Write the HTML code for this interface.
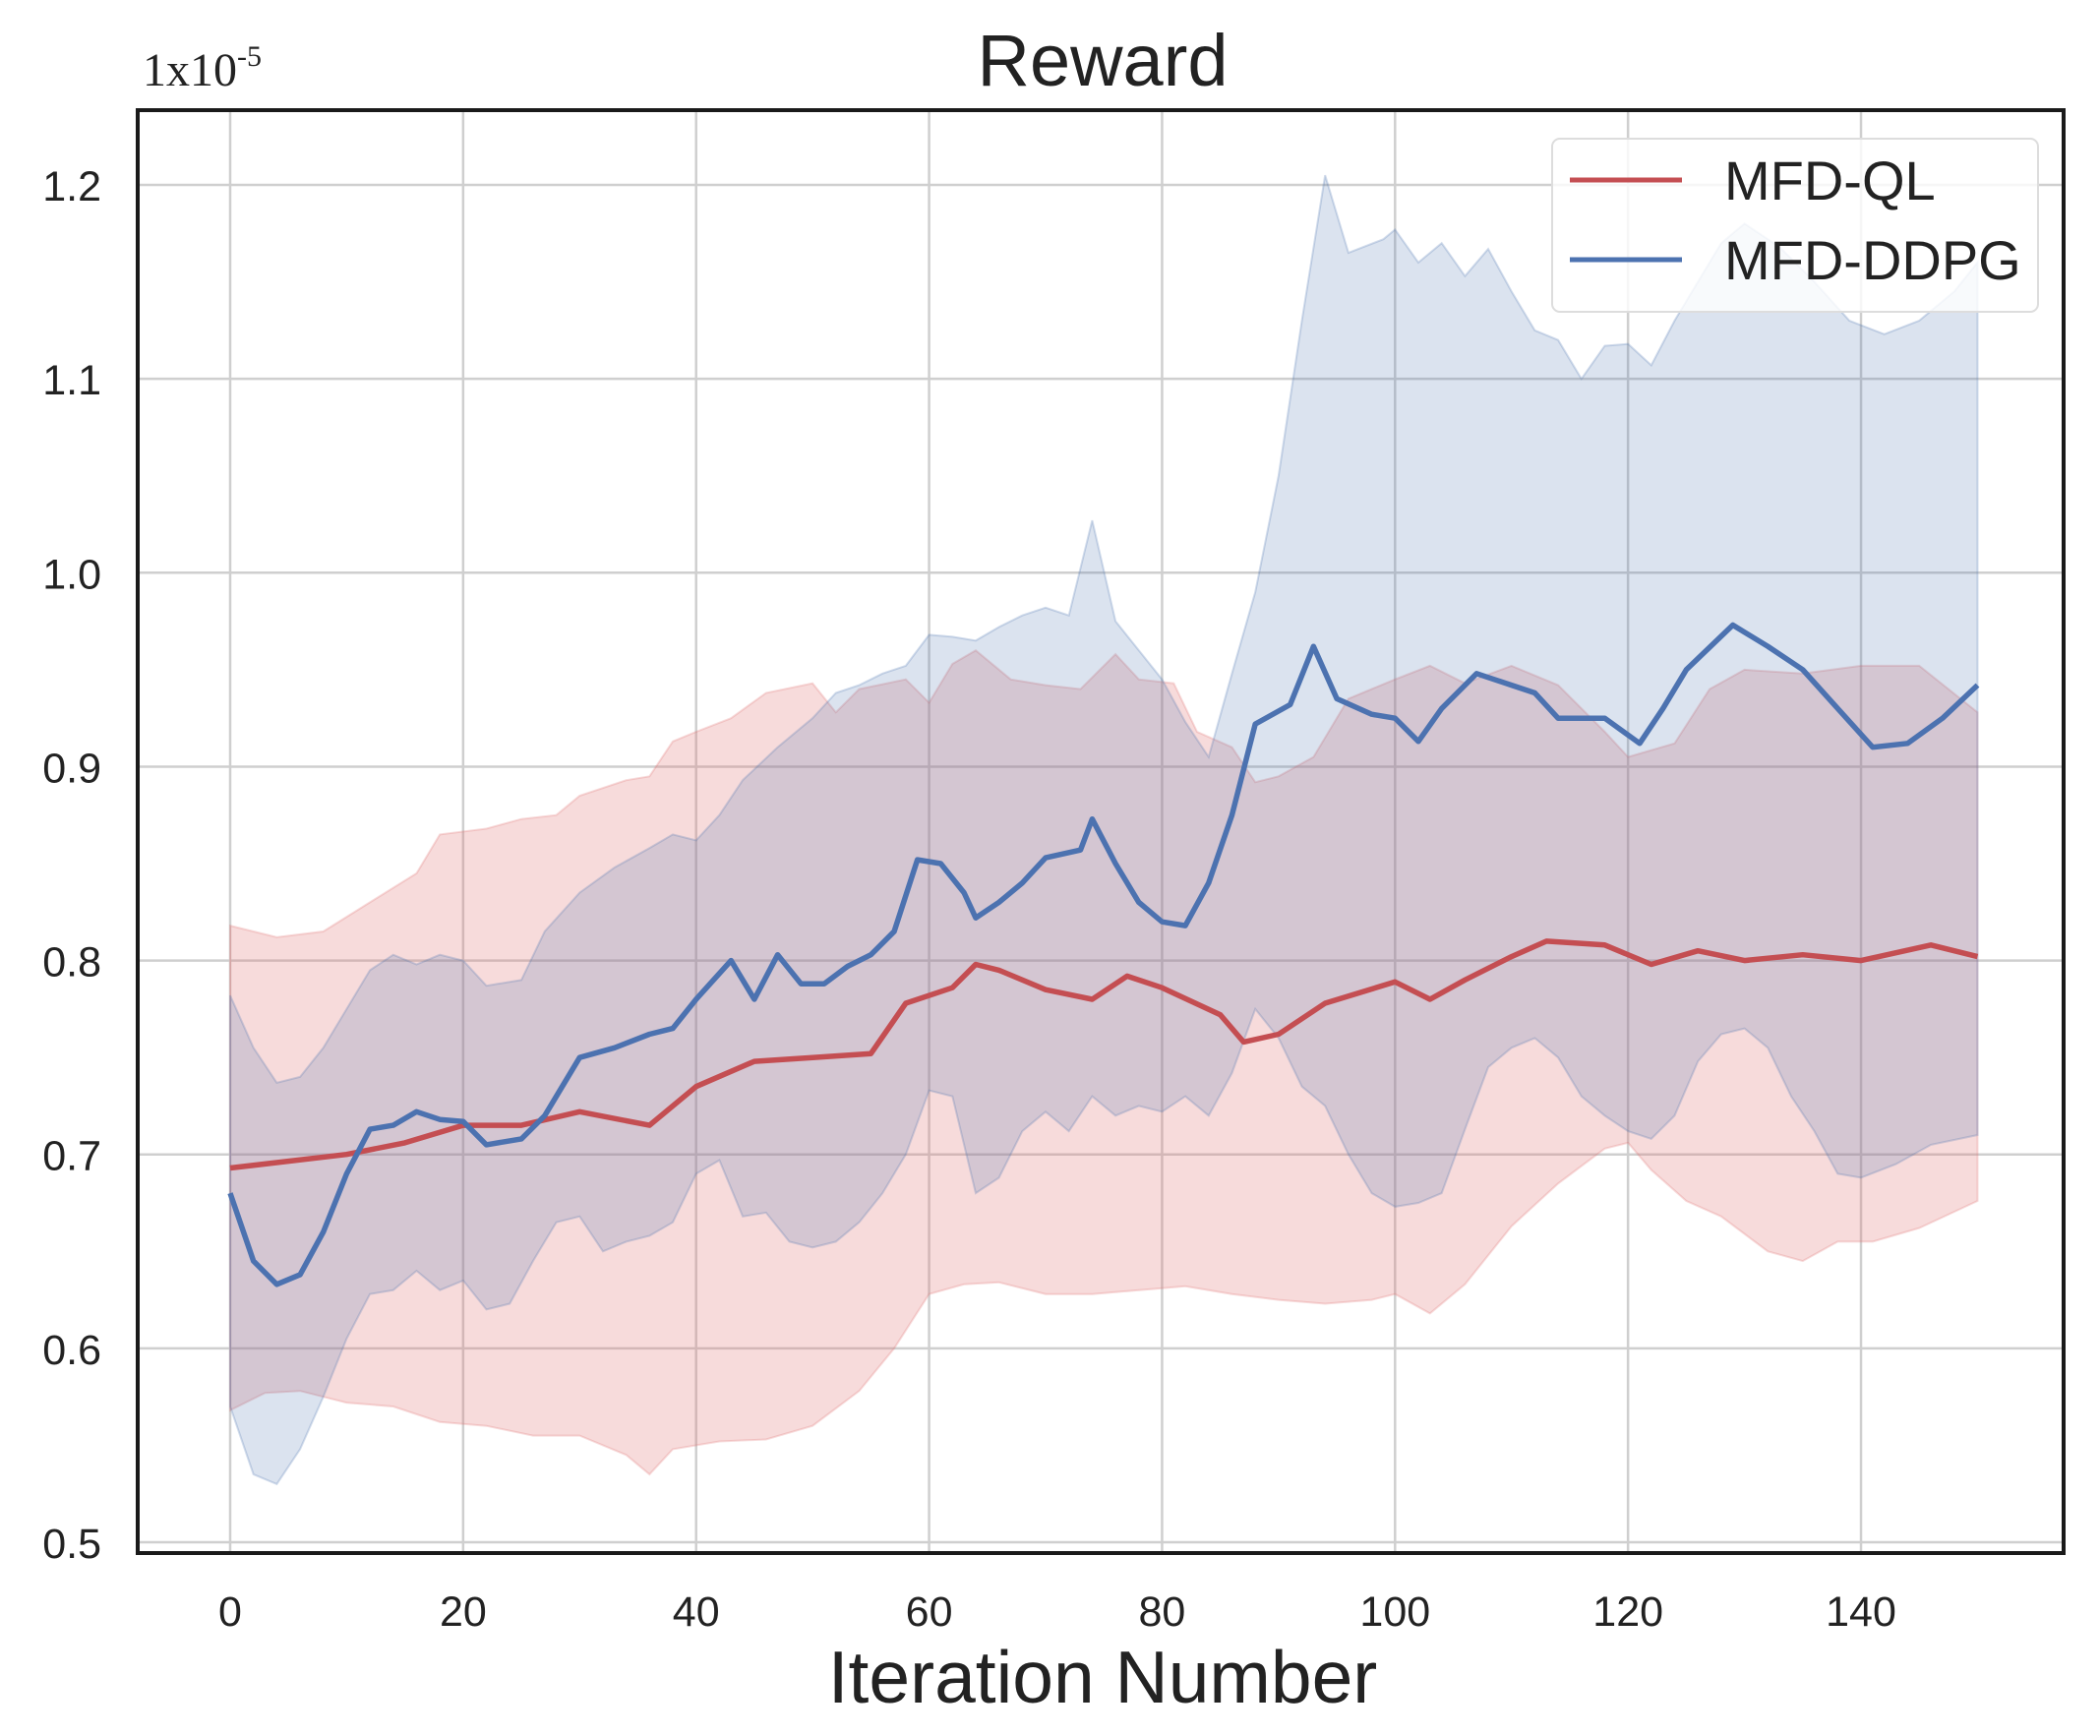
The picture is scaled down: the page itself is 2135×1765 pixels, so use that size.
<!DOCTYPE html>
<html><head><meta charset="utf-8"><style>
html,body{margin:0;padding:0;background:#fff;}
svg{display:block;}
text{font-family:"Liberation Sans",Arial,sans-serif;fill:#222;}
</style></head><body>
<svg id="chart" width="2135" height="1765" viewBox="0 0 2135 1765">
<g id="grid"></g>
<g id="bands"></g>
<g id="lines"></g>
<rect x="140" y="112" width="1958" height="1467" fill="none" stroke="#1a1a1a" stroke-width="4"/>
<g id="ticks"></g>
<text x="1121" y="87" font-size="74" text-anchor="middle">Reward</text>
<text x="1121" y="1731" font-size="75" text-anchor="middle">Iteration Number</text>
<text x="145" y="87" font-size="48" style="font-family:'Liberation Serif',serif">1x10<tspan dy="-20" font-size="30">-5</tspan></text>
<g>
<rect x="1578" y="141" width="494" height="176" rx="8" fill="#fff" fill-opacity="0.8" stroke="#ddd" stroke-width="2"/>
<line x1="1596" y1="183" x2="1710" y2="183" stroke="#c44e52" stroke-width="5"/>
<text x="1753" y="203" font-size="56">MFD-QL</text>
<line x1="1596" y1="264" x2="1710" y2="264" stroke="#4c72b0" stroke-width="5"/>
<text x="1753" y="284" font-size="56">MFD-DDPG</text>
</g>
</svg>
<script>
const xTicks=[0,20,40,60,80,100,120,140];
const yTicks=[0.5,0.6,0.7,0.8,0.9,1.0,1.1,1.2];
const yTickLabels=["0.5","0.6","0.7","0.8","0.9","1.0","1.1","1.2"];

const qlX=[0,10,15,20,25,30,36,40,45,50,55,58,62,64,66,70,74,77,80,85,87,90,94,100,103,106,110,113,118,122,126,130,135,140,146,150];
const qlMean=[.693,.700,.706,.715,.715,.722,.715,.735,.748,.750,.752,.778,.786,.798,.795,.785,.78,.792,.786,.772,.758,.762,.778,.789,.780,.790,.802,.810,.808,.798,.805,.800,.803,.800,.808,.802];

const ddpgX=[0,2,4,6,8,10,12,14,16,18,20,22,25,27,30,33,36,38,40,43,45,47,49,51,53,55,57,59,61,63,64,66,68,70,73,74,76,78,80,82,84,86,88,91,93,95,98,100,102,104,107,110,112,114,118,121,123,125,129,132,135,138,141,144,147,150];
const ddpgMean=[.68,.645,.633,.638,.66,.69,.713,.715,.722,.718,.717,.705,.708,.72,.75,.755,.762,.765,.78,.80,.78,.803,.788,.788,.797,.803,.815,.852,.85,.835,.822,.83,.84,.853,.857,.873,.85,.83,.82,.818,.84,.875,.922,.932,.962,.935,.927,.925,.913,.93,.948,.942,.938,.925,.925,.912,.93,.95,.973,.962,.95,.93,.91,.912,.925,.942];

const qlUpX=[0,4,8,12,16,18,22,25,28,30,34,36,38,40,43,46,50,52,54,58,60,62,64,67,70,73,76,78,81,83,86,88,90,93,96,100,103,106,110,114,118,120,124,127,130,135,140,145,150];
const qlUp=[.818,.812,.815,.83,.845,.865,.868,.873,.875,.885,.893,.895,.913,.918,.925,.938,.943,.928,.94,.945,.933,.953,.96,.945,.942,.94,.958,.945,.943,.918,.91,.892,.895,.905,.935,.945,.952,.943,.952,.942,.918,.905,.912,.94,.95,.948,.952,.952,.928];
const qlLoX=[0,3,6,10,14,18,22,26,30,34,36,38,42,46,50,54,57,60,63,66,70,74,78,82,86,90,94,98,100,103,106,110,114,118,120,122,125,128,132,135,138,141,145,150];
const qlLo=[.568,.577,.578,.572,.57,.562,.56,.555,.555,.545,.535,.548,.552,.553,.56,.578,.6,.628,.633,.634,.628,.628,.63,.632,.628,.625,.623,.625,.628,.618,.633,.663,.685,.703,.706,.692,.676,.668,.65,.645,.655,.655,.662,.676];

const ddUpX=[0,2,4,6,8,10,12,14,16,18,20,22,25,27,30,33,36,38,40,42,44,47,50,52,54,56,58,60,62,64,66,68,70,72,74,76,78,80,82,84,86,88,90,92,94,96,99,100,102,104,106,108,110,112,114,116,118,120,122,124,126,128,130,133,136,139,142,145,148,150];
const ddUp=[.782,.755,.737,.74,.755,.775,.795,.803,.798,.803,.8,.787,.79,.815,.835,.848,.858,.865,.862,.875,.893,.91,.925,.938,.942,.948,.952,.968,.967,.965,.972,.978,.982,.978,1.027,.975,.96,.945,.923,.905,.948,.99,1.05,1.13,1.205,1.165,1.172,1.177,1.16,1.17,1.153,1.167,1.145,1.125,1.12,1.1,1.117,1.118,1.107,1.13,1.15,1.17,1.18,1.168,1.15,1.13,1.123,1.13,1.145,1.16];
const ddLoX=[0,2,4,6,8,10,12,14,16,18,20,22,24,26,28,30,32,34,36,38,40,42,44,46,48,50,52,54,56,58,60,62,64,66,68,70,72,74,76,78,80,82,84,86,88,90,92,94,96,98,100,102,104,106,108,110,112,114,116,118,120,122,124,126,128,130,132,134,136,138,140,143,146,150];
const ddLo=[.57,.535,.53,.548,.575,.605,.628,.63,.64,.63,.635,.62,.623,.645,.665,.668,.65,.655,.658,.665,.69,.697,.668,.67,.655,.652,.655,.665,.68,.7,.733,.73,.68,.688,.712,.722,.712,.73,.72,.725,.722,.73,.72,.742,.775,.76,.735,.725,.7,.68,.673,.675,.68,.713,.745,.755,.76,.75,.73,.72,.712,.708,.72,.748,.762,.765,.755,.73,.712,.69,.688,.695,.705,.71];

const NS="http://www.w3.org/2000/svg";
function sx(v){return 234+v*11.843;}
function sy(v){return 1568-(v-0.5)*1971.4;}
function el(tag,attrs,parent){const e=document.createElementNS(NS,tag);for(const k in attrs)e.setAttribute(k,attrs[k]);parent.appendChild(e);return e;}
const grid=document.getElementById('grid'),bands=document.getElementById('bands'),lines=document.getElementById('lines'),ticks=document.getElementById('ticks');

xTicks.forEach(t=>{
  const l=el('line',{x1:sx(t),x2:sx(t),y1:112,y2:1579,stroke:'#cfcfcf','stroke-width':2.5},grid);
  
  
  const tx=el('text',{x:sx(t),y:1653,'font-size':43,'text-anchor':'middle'},ticks);
  tx.textContent=String(t);
  
  
});
yTicks.forEach((t,i)=>{
  const l=el('line',{x1:140,x2:2098,y1:sy(t),y2:sy(t),stroke:'#cfcfcf','stroke-width':2.5},grid);
  
  
  const tx=el('text',{x:103,y:sy(t)+16,'font-size':43,'text-anchor':'end'},ticks);
  tx.textContent=yTickLabels[i];
  
  
});

function bandPath(ux,uy,lx,ly){
  let d='M'+ux.map((x,i)=>sx(x).toFixed(1)+','+sy(uy[i]).toFixed(1)).join(' L');
  for(let i=lx.length-1;i>=0;i--)d+=' L'+sx(lx[i]).toFixed(1)+','+sy(ly[i]).toFixed(1);
  return d+' Z';
}
function linePath(xs,ys){return 'M'+xs.map((x,i)=>sx(x).toFixed(1)+','+sy(ys[i]).toFixed(1)).join(' L');}

const b1=el('path',{d:bandPath(qlUpX,qlUp,qlLoX,qlLo),fill:'#e07070','fill-opacity':0.25,stroke:'#e07070','stroke-opacity':0.25,'stroke-width':2},bands);


const b2=el('path',{d:bandPath(ddUpX,ddUp,ddLoX,ddLo),fill:'#4c72b0','fill-opacity':0.2,stroke:'#4c72b0','stroke-opacity':0.25,'stroke-width':2},bands);



const l1=el('path',{d:linePath(qlX,qlMean),fill:'none',stroke:'#c44e52','stroke-width':5.5,'stroke-linejoin':'round'},lines);


const l2=el('path',{d:linePath(ddpgX,ddpgMean),fill:'none',stroke:'#4c72b0','stroke-width':5.5,'stroke-linejoin':'round'},lines);


</script>
</body></html>
